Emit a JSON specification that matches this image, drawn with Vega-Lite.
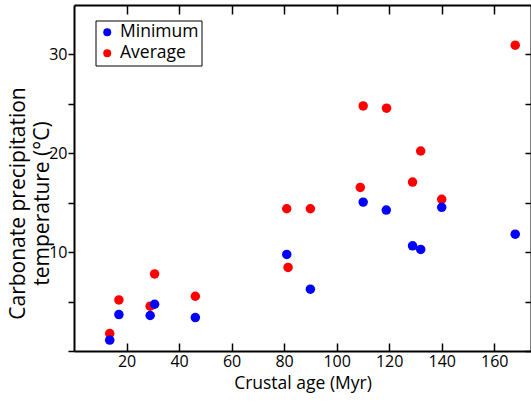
{
  "$schema": "https://vega.github.io/schema/vega-lite/v6.json",
  "width": 457,
  "height": 346,
  "autosize": {"type": "none"},
  "padding": {"left": 74, "top": 5, "right": 0, "bottom": 51},
  "background": "white",
  "config": {
    "view": {"stroke": null},
    "font": "Open Sans",
    "axis": {
      "grid": false,
      "domainColor": "black",
      "domainWidth": 2,
      "tickColor": "black",
      "tickWidth": 1.5,
      "labelColor": "black",
      "titleColor": "black",
      "labelFontSize": 16,
      "titleFontSize": 17.5,
      "titleFontWeight": "normal",
      "labelFont": "Open Sans",
      "titleFont": "Open Sans"
    }
  },
  "data": {
    "values": [
      {"series": "Average", "age": 13.6, "temp": 1.76},
      {"series": "Average", "age": 17.1, "temp": 5.17},
      {"series": "Average", "age": 29.0, "temp": 4.53},
      {"series": "Average", "age": 30.7, "temp": 7.8},
      {"series": "Average", "age": 46.2, "temp": 5.54},
      {"series": "Average", "age": 81.0, "temp": 14.39},
      {"series": "Average", "age": 81.5, "temp": 8.45},
      {"series": "Average", "age": 90.0, "temp": 14.39},
      {"series": "Average", "age": 109.0, "temp": 16.55},
      {"series": "Average", "age": 110.1, "temp": 24.79},
      {"series": "Average", "age": 119.0, "temp": 24.56},
      {"series": "Average", "age": 128.9, "temp": 17.09},
      {"series": "Average", "age": 132.0, "temp": 20.23},
      {"series": "Average", "age": 140.0, "temp": 15.34},
      {"series": "Average", "age": 168.0, "temp": 30.94},
      {"series": "Minimum", "age": 13.6, "temp": 1.1},
      {"series": "Minimum", "age": 17.1, "temp": 3.69},
      {"series": "Minimum", "age": 29.0, "temp": 3.59},
      {"series": "Minimum", "age": 30.7, "temp": 4.73},
      {"series": "Minimum", "age": 46.2, "temp": 3.38},
      {"series": "Minimum", "age": 81.0, "temp": 9.77},
      {"series": "Minimum", "age": 90.0, "temp": 6.25},
      {"series": "Minimum", "age": 110.1, "temp": 15.06},
      {"series": "Minimum", "age": 118.9, "temp": 14.26},
      {"series": "Minimum", "age": 128.9, "temp": 10.64},
      {"series": "Minimum", "age": 132.0, "temp": 10.27},
      {"series": "Minimum", "age": 140.0, "temp": 14.53},
      {"series": "Minimum", "age": 168.0, "temp": 11.82}
    ]
  },
  "layer": [
    {
      "mark": {"type": "circle", "size": 90, "opacity": 1},
      "encoding": {
        "x": {
          "field": "age", "type": "quantitative",
          "scale": {"domain": [0, 174], "nice": false, "zero": false},
          "axis": {
            "orient": "bottom",
            "values": [20, 40, 60, 80, 100, 120, 140, 160],
            "tickSize": -8,
            "labelPadding": 10,
            "title": "Crustal age (Myr)",
            "titleBaseline": "middle",
            "titleY": 32
          }
        },
        "y": {
          "field": "temp", "type": "quantitative",
          "scale": {"domain": [0, 35], "nice": false, "zero": false},
          "axis": {
            "orient": "left",
            "values": [0, 5, 10, 15, 20, 25, 30],
            "labelExpr": "datum.value % 10 === 0 && datum.value > 0 ? datum.label : ''",
            "tickSize": 6,
            "labelPadding": 1,
            "title": ["Carbonate precipitation", "temperature (°C)"],
            "titleFontSize": 21,
            "titleLineHeight": 24,
            "titleAngle": -90,
            "titleBaseline": "middle",
            "titleAlign": "center",
            "titleX": -56,
            "titleY": 198
          }
        },
        "color": {
          "field": "series", "type": "nominal",
          "scale": {"domain": ["Minimum", "Average"], "range": ["#0000ff", "#ff0000"]},
          "legend": {
            "orient": "none",
            "legendX": 21.5,
            "legendY": 15.5,
            "title": null,
            "strokeColor": "black",
            "fillColor": "white",
            "padding": 3,
            "labelFontSize": 17.5,
            "labelColor": "black",
            "labelFont": "Open Sans",
            "symbolType": "circle",
            "symbolSize": 64,
            "symbolStrokeWidth": 0,
            "symbolOffset": 0,
            "rowPadding": 2,
            "labelOffset": 4
          }
        }
      }
    },
    {
      "mark": {"type": "circle", "opacity": 0},
      "encoding": {
        "x": {
          "field": "age", "type": "quantitative",
          "scale": {"domain": [0, 174], "nice": false, "zero": false},
          "axis": {
            "orient": "top",
            "values": [20, 40, 60, 80, 100, 120, 140, 160],
            "tickSize": -9,
            "labels": false,
            "title": null
          }
        },
        "y": {
          "field": "temp", "type": "quantitative",
          "scale": {"domain": [0, 35], "nice": false, "zero": false},
          "axis": {
            "orient": "right",
            "values": [0, 5, 10, 15, 20, 25, 30],
            "tickSize": -6,
            "labels": false,
            "title": null
          }
        }
      }
    }
  ],
  "resolve": {"axis": {"x": "independent", "y": "independent"}}
}
